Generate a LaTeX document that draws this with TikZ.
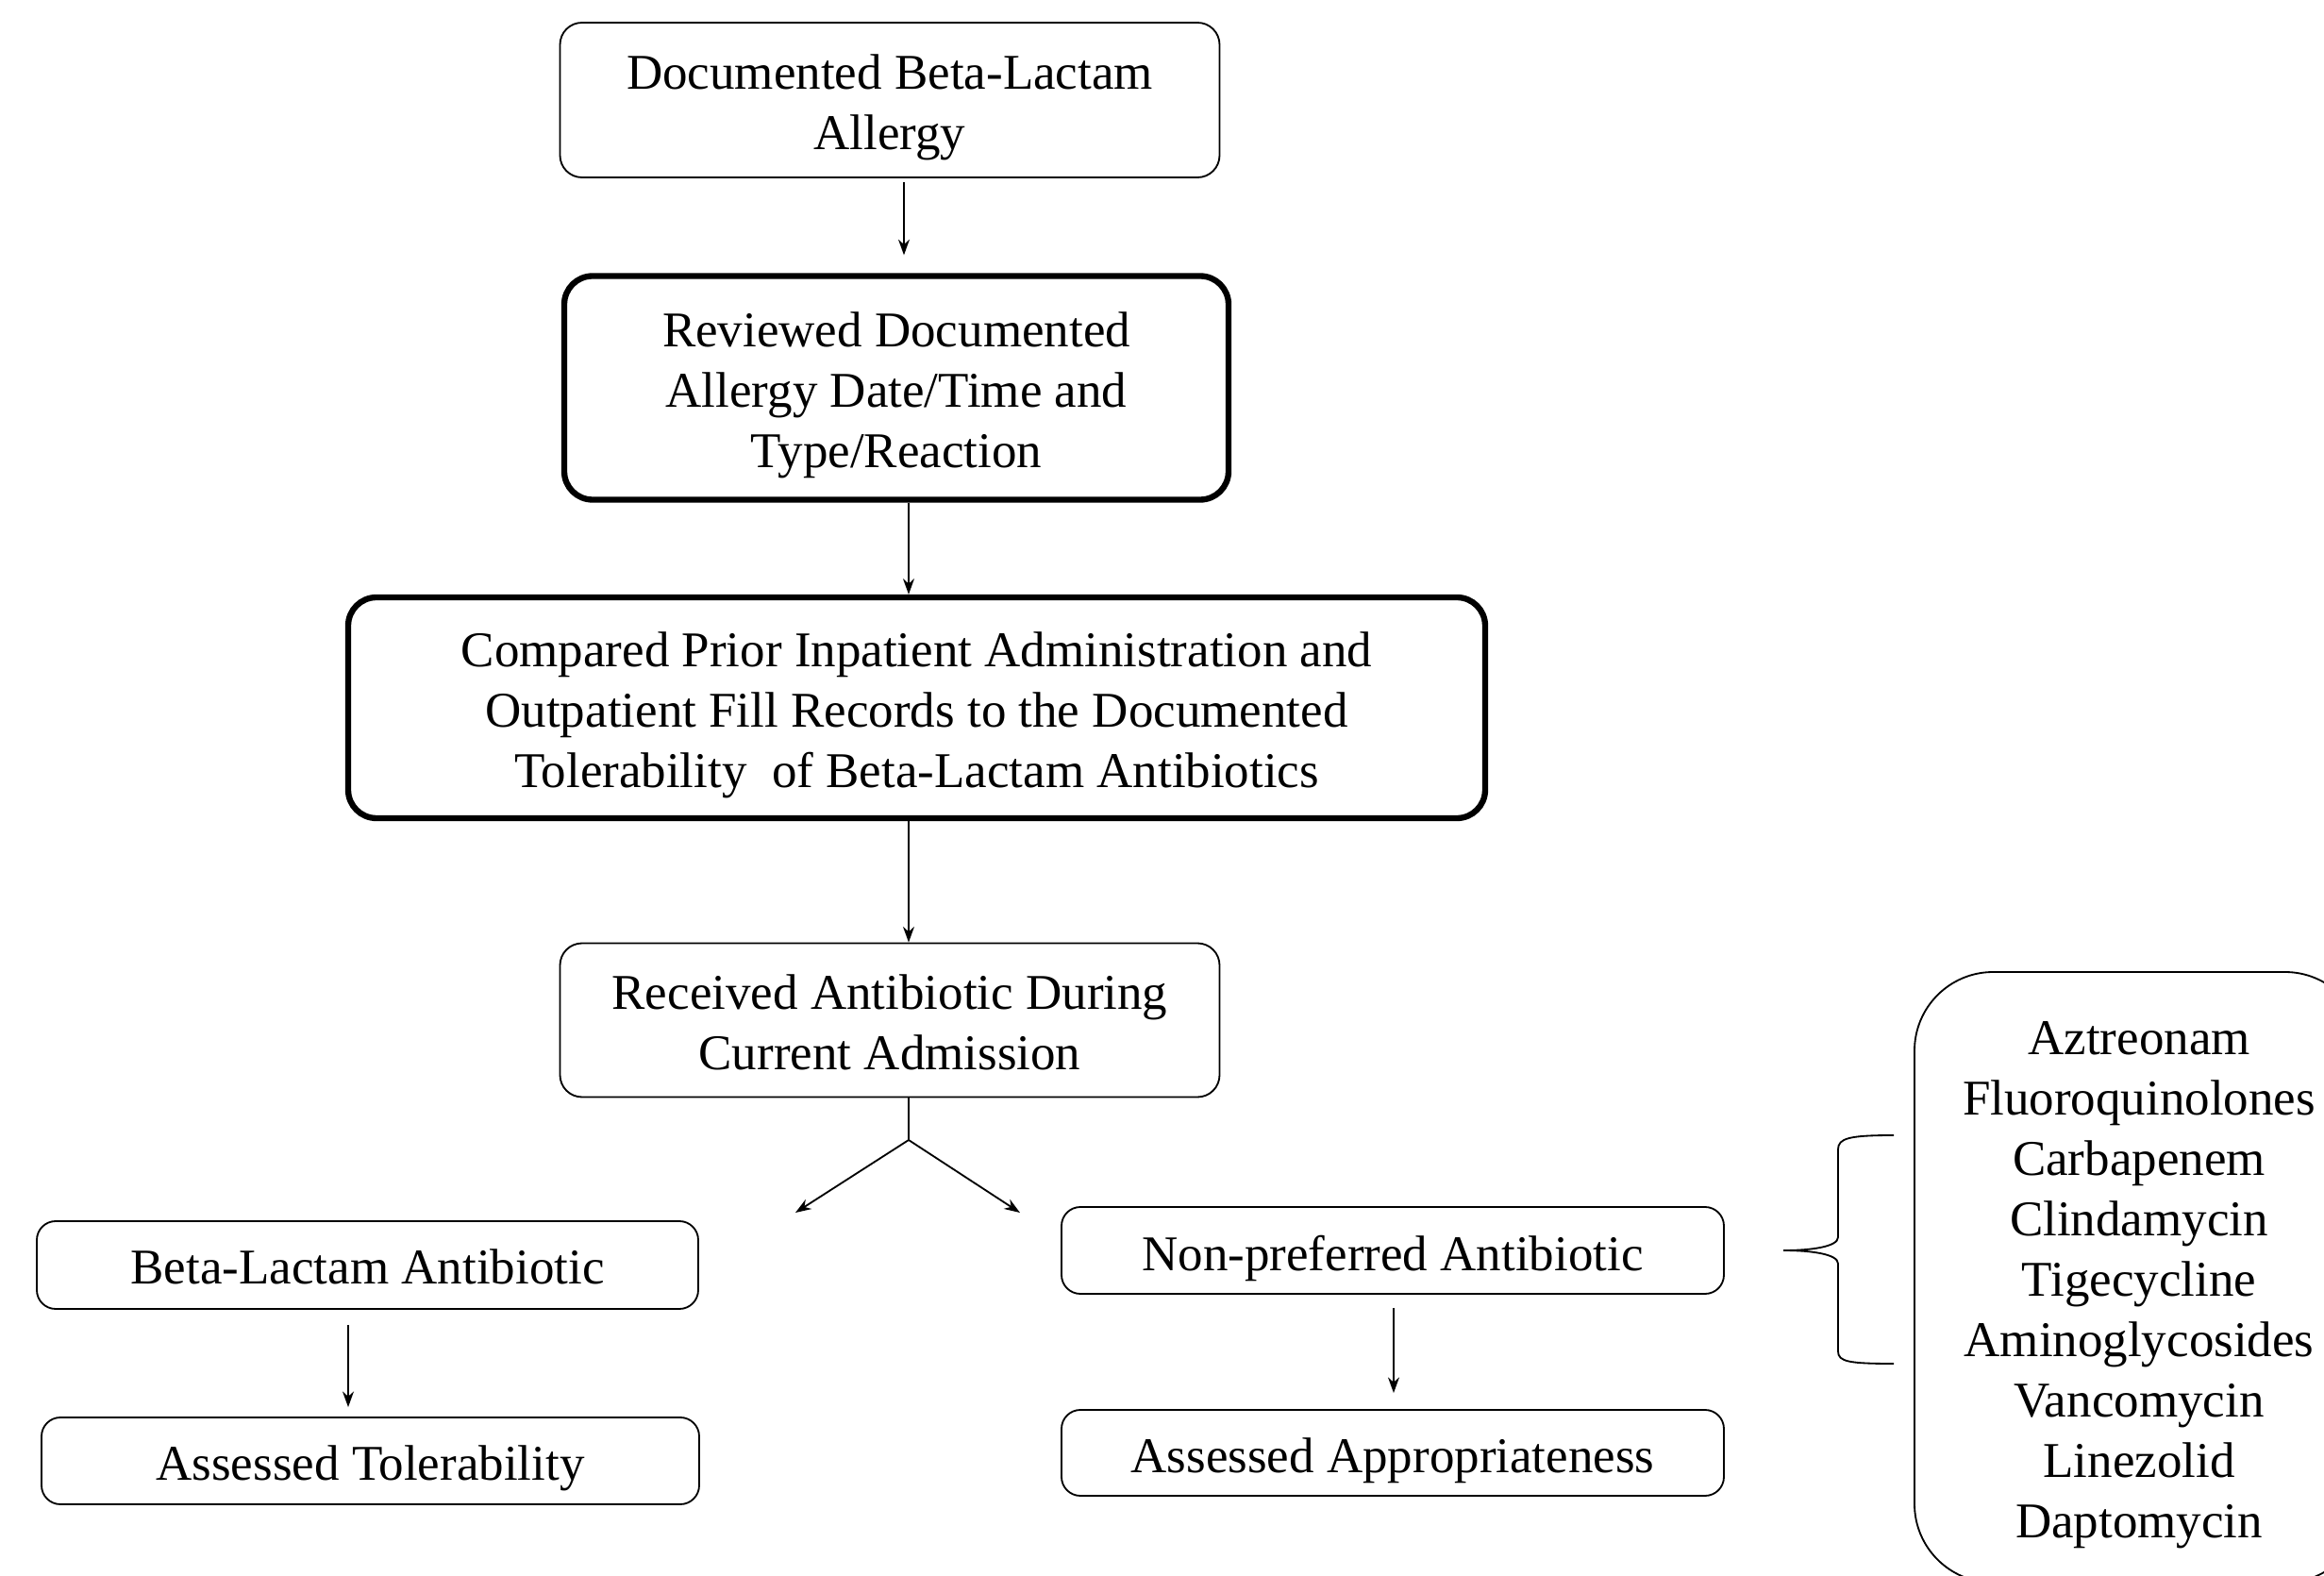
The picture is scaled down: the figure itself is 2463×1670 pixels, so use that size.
\documentclass[tikz,border=0pt]{standalone}
\usepackage{fontspec}
\setmainfont{Liberation Serif}
\usetikzlibrary{arrows.meta}
\begin{document}
\begin{tikzpicture}[x=0.3pt,y=-0.3pt,
  txt/.style={font=\fontsize{15.9}{19.2}\selectfont, align=center, inner sep=0pt},
  thinbox/.style={draw, inner sep=0pt, line width=0.55pt, rounded corners=6pt},
  thickbox/.style={draw, inner sep=0pt, line width=1.9pt, rounded corners=9pt},
  tl/.style={label={[txt, yshift=-2.4pt]center:{#1}}},
  tls/.style={label={[txt, yshift=-0.6pt]center:{#1}}},
  arr/.style={line width=0.55pt, -{Stealth[length=5pt,width=3.6pt]}},
  ln/.style={line width=0.55pt}]
\useasboundingbox (0,0) rectangle (2463,1670);
\clip (0,0) rectangle (2463,1670);
% nodes
\node[thinbox, rounded corners=7pt, minimum width=209.7pt, minimum height=49.2pt,
  tl={Documented Beta-Lactam\\Allergy}] (b1) at (943,106) {};
\node[thickbox, minimum width=211.2pt, minimum height=71.1pt,
  tl={Reviewed Documented\\Allergy Date/Time and\\Type/Reaction}] (b2) at (950,411) {};
\node[thickbox, minimum width=361.5pt, minimum height=70.2pt,
  tl={Compared Prior Inpatient Administration and\\Outpatient Fill Records to the Documented\\Tolerability~ of Beta-Lactam Antibiotics}] (b3) at (971.5,750) {};
\node[thinbox, rounded corners=7pt, minimum width=209.7pt, minimum height=48.9pt,
  tls={Received Antibiotic During\\Current Admission}] (b4) at (943,1081) {};
\node[thinbox, minimum width=210.3pt, minimum height=27.9pt,
  tls={Beta-Lactam Antibiotic}] (b5) at (389.5,1340.5) {};
\node[thinbox, minimum width=209.1pt, minimum height=27.6pt,
  tl={Assessed Tolerability}] (b6) at (392.5,1548) {};
\node[thinbox, minimum width=210.6pt, minimum height=27.6pt,
  tl={Non-preferred Antibiotic}] (b7) at (1476,1325) {};
\node[thinbox, minimum width=210.6pt, minimum height=27.3pt,
  tl={Assessed Appropriateness}] (b8) at (1476,1539.5) {};
\node[thinbox, rounded corners=25pt, minimum width=142.8pt, minimum height=194.1pt,
  tl={Aztreonam\\Fluoroquinolones\\Carbapenem\\Clindamycin\\Tigecycline\\Aminoglycosides\\Vancomycin\\Linezolid\\Daptomycin}] (list) at (2267,1353.5) {};
% helper coordinates
\coordinate (x1) at (958,0);
\coordinate (x2) at (963,0);
\coordinate (xl) at (369,0);
\coordinate (xr) at (1477,0);
\coordinate (split) at (963,1208);
\coordinate (tipL) at (843,1285);
\coordinate (tipR) at (1081,1285);
% connectors
\draw[arr] ([yshift=-1.2pt]b1.south -| x1) -- ([yshift=5.7pt]b2.north -| x1);
\draw[arr] (b2.south -| x2) -- (b3.north -| x2);
\draw[arr] (b3.south -| x2) -- (b4.north -| x2);
\draw[ln] (b4.south -| x2) -- (split);
\draw[arr] (split) -- (tipL);
\draw[arr] (split) -- (tipR);
\draw[arr] ([yshift=-4.8pt]b5.south -| xl) -- ([yshift=3pt]b6.north -| xl);
\draw[arr] ([yshift=-4.2pt]b7.south -| xr) -- ([yshift=5.1pt]b8.north -| xr);
% brace
\draw[ln] (2007,1203) .. controls (1960,1203) and (1948,1206) .. (1948,1218) -- (1948,1311)
  .. controls (1948,1321) and (1920,1325) .. (1890,1325)
  .. controls (1920,1325) and (1948,1329) .. (1948,1339) -- (1948,1432)
  .. controls (1948,1443) and (1960,1445) .. (2007,1445);
\end{tikzpicture}
\end{document}
